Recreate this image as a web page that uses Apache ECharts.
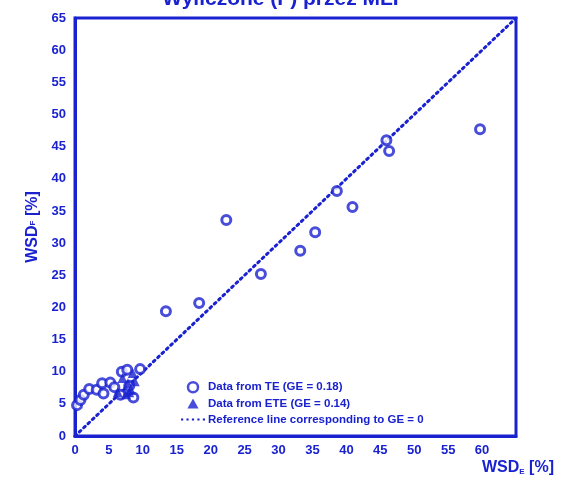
<!DOCTYPE html>
<html><head><meta charset="utf-8">
<script src="https://cdn.jsdelivr.net/npm/echarts@6/dist/echarts.min.js"></script>
<style>html,body{margin:0;padding:0;background:#fff}#c{width:569px;height:492px}</style>
</head><body><div id="c"></div>
<script>
const xTicks = [0,5,10,15,20,25,30,35,40,45,50,55,60];
const yTicks = [0,5,10,15,20,25,30,35,40,45,50,55,60,65];
const teData = [
  [0.3,4.8],[0.8,5.6],[1.3,6.4],[2.1,7.3],[3.2,7.2],[4.2,6.6],[4.0,8.2],[5.2,8.3],
  [5.8,7.6],[6.7,6.4],[6.9,10.0],[7.7,10.3],[9.6,10.4],[8.6,6.0],[8.0,7.8],
  [13.4,19.4],[18.3,20.7],[22.3,33.6],[27.4,25.2],[33.2,28.8],[35.4,31.7],
  [38.6,38.1],[40.9,35.6],[45.9,46.0],[46.3,44.3],[59.7,47.7]
];
const eteData = [
  [7.0,9.0],[7.8,8.2],[8.2,7.2],[8.5,9.8],[8.0,6.8],[7.5,6.5],[8.8,8.5],[6.3,6.8]
];
const refLine = [[0,0],[65,65]];
const legendNames = ['Data from TE (GE = 0.18)','Data from ETE (GE = 0.14)','Reference line corresponding to GE = 0'];

const BLUE = '#1a22d0';
const FONT = 'Liberation Sans, Arial';
const dots = 'path://M0,0h2v2h-2zM5,0h2v2h-2zM10,0h2v2h-2zM15,0h2v2h-2zM20,0h2v2h-2z';
const tri = 'path://M5,0L10,9L0,9Z';
const chart = echarts.init(document.getElementById('c'));
chart.setOption({
  animation:false,
  title:{text:'Wyliczone (F) przez MLP', left:'center', top:-16,
    textStyle:{color:BLUE, fontSize:21, fontWeight:'bold', fontFamily:FONT}},
  grid:{left:75, right:53, top:18, bottom:56, show:true, borderColor:BLUE, borderWidth:3},
  legend:{
    orient:'vertical', left:176, top:376, itemGap:4, itemWidth:24, itemHeight:10,
    textStyle:{color:BLUE, fontSize:11.5, fontWeight:'bold', fontFamily:FONT, padding:[0,0,0,-2]},
    data:[
      {name:legendNames[0], icon:'circle', itemStyle:{color:'#fff', borderColor:BLUE, borderWidth:2.5}},
      {name:legendNames[1], icon:tri, itemStyle:{color:BLUE}},
      {name:legendNames[2], icon:dots, itemStyle:{color:BLUE}}
    ]
  },
  xAxis:{type:'value', min:0, max:65, interval:5,
    axisLine:{show:true, lineStyle:{color:BLUE, width:3}},
    axisTick:{show:false}, splitLine:{show:false},
    axisLabel:{color:BLUE, fontSize:13, fontWeight:'bold', fontFamily:FONT, margin:8,
      formatter:v=>xTicks.includes(v)?String(v):''},
    name:'{a|WSD}{s|E}{a| [%]}', nameLocation:'end', nameGap:0,
    nameTextStyle:{align:'right', verticalAlign:'top', padding:[24,-38,0,0],
      rich:{a:{color:BLUE,fontSize:16,fontWeight:'bold',fontFamily:FONT},
            s:{color:BLUE,fontSize:8,fontWeight:'bold',verticalAlign:'bottom',padding:[8,0,0,0],fontFamily:FONT}}}
  },
  yAxis:{type:'value', min:0, max:65, interval:5,
    axisLine:{show:true, lineStyle:{color:BLUE, width:3}},
    axisTick:{show:false}, splitLine:{show:false},
    axisLabel:{color:BLUE, fontSize:13, fontWeight:'bold', fontFamily:FONT, margin:9,
      formatter:v=>yTicks.includes(v)?String(v):''},
    name:'{a|WSD}{s|F}{a| [%]}', nameLocation:'middle', nameGap:34, nameRotate:90,
    nameTextStyle:{
      rich:{a:{color:BLUE,fontSize:16,fontWeight:'bold',fontFamily:FONT},
            s:{color:BLUE,fontSize:8,fontWeight:'bold',fontFamily:FONT}}}
  },
  series:[
    {name:legendNames[2], type:'line', data:refLine, showSymbol:false, symbol:'none',
      lineStyle:{color:BLUE, width:3, type:[2,4], cap:'round'}, z:1,
      markPoint:{symbol:'none', data:[{coord:[61.8,62.5], label:{show:true, formatter:'A', color:BLUE,
        fontSize:15, fontWeight:'bold', fontStyle:'italic', fontFamily:FONT}}]}},
    {name:legendNames[0], type:'scatter', data:teData, symbol:'circle', symbolSize:9,
      itemStyle:{color:'#fff', borderColor:BLUE, borderWidth:3}, z:3},
    {name:legendNames[1], type:'scatter', data:eteData, symbol:'triangle', symbolSize:10,
      itemStyle:{color:BLUE, borderColor:BLUE, borderWidth:0}, z:4}
  ]
});
</script></body></html>
